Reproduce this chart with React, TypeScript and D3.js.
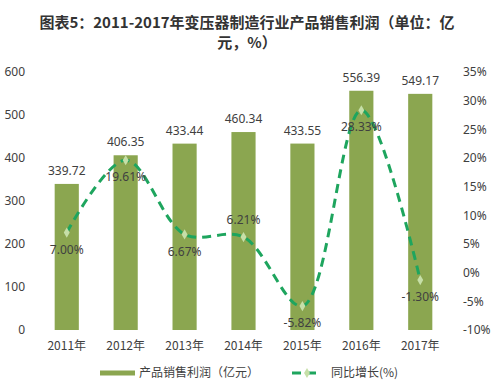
import React from "react";
import * as d3 from "d3";

const years = ["2011年", "2012年", "2013年", "2014年", "2015年", "2016年", "2017年"];
const profit = [339.72, 406.35, 433.44, 460.34, 433.55, 556.39, 549.17];
const growth = [7.0, 19.61, 6.67, 6.21, -5.82, 28.33, -1.3];
const leftTicks = [0, 100, 200, 300, 400, 500, 600];
const rightTicks = [-10, -5, 0, 5, 10, 15, 20, 25, 30, 35];
// where each growth label sits relative to its point: 1 below, -1 above
const growthLabelSide = [1, 1, 1, -1, 1, 1, 1];

const W = 498;
const H = 389;
const margin = { top: 72, bottom: 59, left: 37, right: 48 };
const font = "'Noto Sans', 'Noto Sans CJK SC', sans-serif";
const cjk = "'Noto Sans CJK SC', sans-serif";
const barColor = "#8BA650";
const lineColor = "#1EA55E";
const textColor = "#404040";

export default function App() {
  const x = d3.scaleBand().domain(years).range([margin.left, W - margin.right]).paddingInner(0.59).paddingOuter(0.3);
  const yL = d3.scaleLinear().domain([0, 600]).range([H - margin.bottom, margin.top]);
  const yR = d3.scaleLinear().domain([-10, 35]).range([H - margin.bottom, margin.top]);

  const pts: [number, number][] = growth.map((g, i) => [x(years[i])! + x.bandwidth() / 2, yR(g)]);
  const line = d3.line().curve(d3.curveCatmullRom.alpha(0.5))(pts) || "";
  const diamond = d3.symbol().type(d3.symbolDiamond).size(30)() || "";

  return (
    <svg width={W} height={H} style={{ position: "absolute", left: 0, top: 0, background: "#fff" }}>
      <text x={247} y={28} textAnchor="middle" fontFamily={cjk} fontWeight="bold" fontSize={15} fill="#333">
        图表5：2011-2017年变压器制造行业产品销售利润（单位：亿
      </text>
      <text x={247} y={48} textAnchor="middle" fontFamily={cjk} fontWeight="bold" fontSize={15} fill="#333">
        元，%）
      </text>

      {leftTicks.map(t => (
        <text key={t} x={25} y={yL(t)} dy="0.35em" textAnchor="end" fontFamily={font} fontSize={12} fill={textColor}>
          {t}
        </text>
      ))}
      {rightTicks.map(t => (
        <text key={t} x={463} y={yR(t)} dy="0.35em" textAnchor="start" fontFamily={font} fontSize={12} fill={textColor}>
          {t + "%"}
        </text>
      ))}

      {profit.map((v, i) => (
        <g key={years[i]}>
          <rect x={x(years[i])} y={yL(v)} width={x.bandwidth()} height={yL(0) - yL(v)} fill={barColor} />
          <text x={x(years[i])! + x.bandwidth() / 2} y={yL(v) - 9} textAnchor="middle" fontFamily={font} fontSize={12} fill={textColor}>
            {v.toFixed(2)}
          </text>
          <text x={x(years[i])! + x.bandwidth() / 2} y={H - margin.bottom + 20} textAnchor="middle" fontFamily={cjk} fontSize={12} fill={textColor}>
            {years[i]}
          </text>
        </g>
      ))}

      <path d={line} fill="none" stroke={lineColor} strokeWidth={3} strokeDasharray="9,6" />
      {pts.map((p, i) => (
        <path key={i} d={diamond} transform={`translate(${p[0]},${p[1]})`} fill="#C6DFA8" />
      ))}
      {growth.map((g, i) => (
        <text key={i} x={pts[i][0]} y={pts[i][1] + growthLabelSide[i] * 17} dy="0.35em" textAnchor="middle" fontFamily={font} fontSize={12} fill={textColor}>
          {g.toFixed(2) + "%"}
        </text>
      ))}

      <g transform="translate(0,373)">
        <rect x={100} y={-2.5} width={35} height={5} fill={barColor} />
        <text x={139} y={0} dy="0.35em" fontFamily={cjk} fontSize={12} fill={textColor}>产品销售利润（亿元）</text>
        <line x1={292} x2={322} y1={0} y2={0} stroke={lineColor} strokeWidth={3} strokeDasharray="9,6" />
        <path d={diamond} transform="translate(307,0)" fill="#C6DFA8" />
        <text x={331} y={0} dy="0.35em" fontFamily={cjk} fontSize={12} fill={textColor}>同比增长(%)</text>
      </g>
    </svg>
  );
}
